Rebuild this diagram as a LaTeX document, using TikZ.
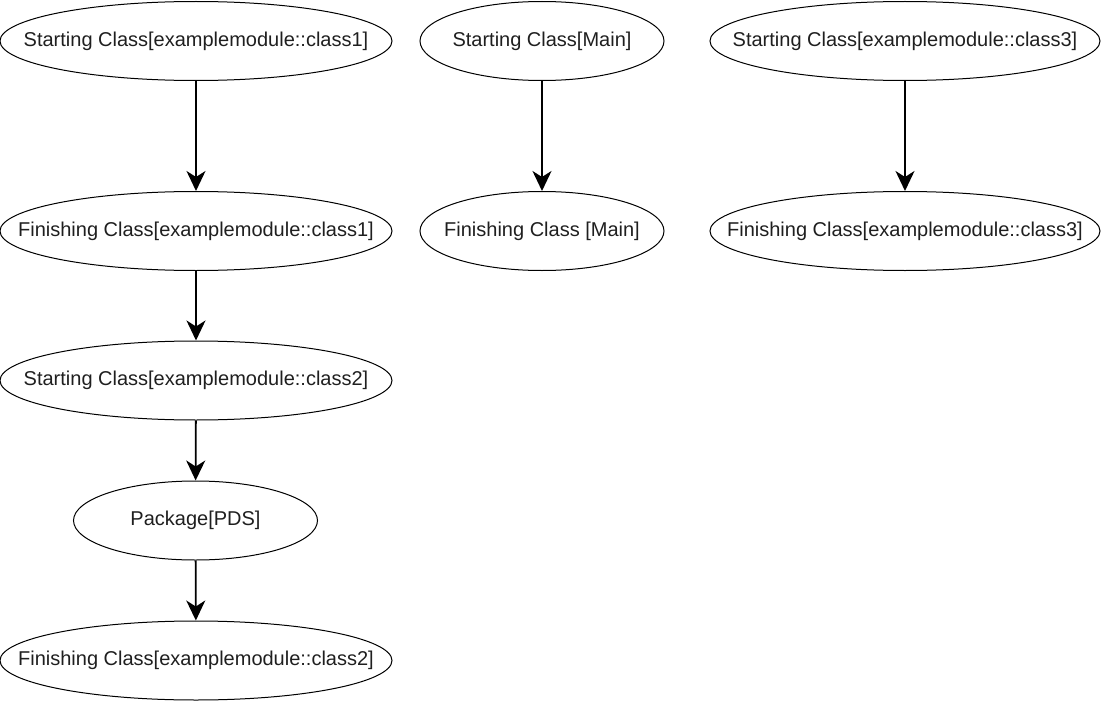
\documentclass[tikz,border=0pt]{standalone}
\usepackage{fontspec}
\setmainfont{Liberation Sans}
\usetikzlibrary{shapes.geometric,arrows.meta}
\newcommand{\lbl}[1]{\makebox[0pt][c]{#1}}
\begin{document}
\begin{tikzpicture}[x=1pt,y=-1pt,
  ell/.style={ellipse,draw=black,line width=1pt,inner sep=0pt,font=\fontsize{20}{24}\selectfont,text=black!88},
  wide/.style={ell,minimum width=392pt,minimum height=79pt},
  narrow/.style={ell,minimum width=244pt,minimum height=79pt},
  flow/.style={line width=1.8pt,-{Stealth[length=20pt,width=19pt,inset=6pt]}}]
\useasboundingbox (0,0) rectangle (1101,701);
\node[wide] (s1) at (196,41) {\lbl{Starting Class[examplemodule::class1]}};
\node[wide] (f1) at (196,231) {\lbl{Finishing Class[examplemodule::class1]}};
\node[wide] (s2) at (196,380.5) {\lbl{Starting Class[examplemodule::class2]}};
\node[narrow] (pk) at (195.5,520.5) {\lbl{Package[PDS]}};
\node[wide] (f2) at (196,660.5) {\lbl{Finishing Class[examplemodule::class2]}};
\node[narrow] (sm) at (542,41) {\lbl{Starting Class[Main]}};
\node[narrow] (fm) at (542,231) {\lbl{Finishing Class [Main]}};
\node[wide,minimum width=390pt] (s3) at (905,41) {\lbl{Starting Class[examplemodule::class3]}};
\node[wide,minimum width=390pt] (f3) at (905,231) {\lbl{Finishing Class[examplemodule::class3]}};
\draw[flow] (s1) -- (f1);
\draw[flow] (f1) -- (s2);
\draw[flow] (s2) -- (pk);
\draw[flow] (pk) -- (f2);
\draw[flow] (sm) -- (fm);
\draw[flow] (s3) -- (f3);
\end{tikzpicture}
\end{document}
